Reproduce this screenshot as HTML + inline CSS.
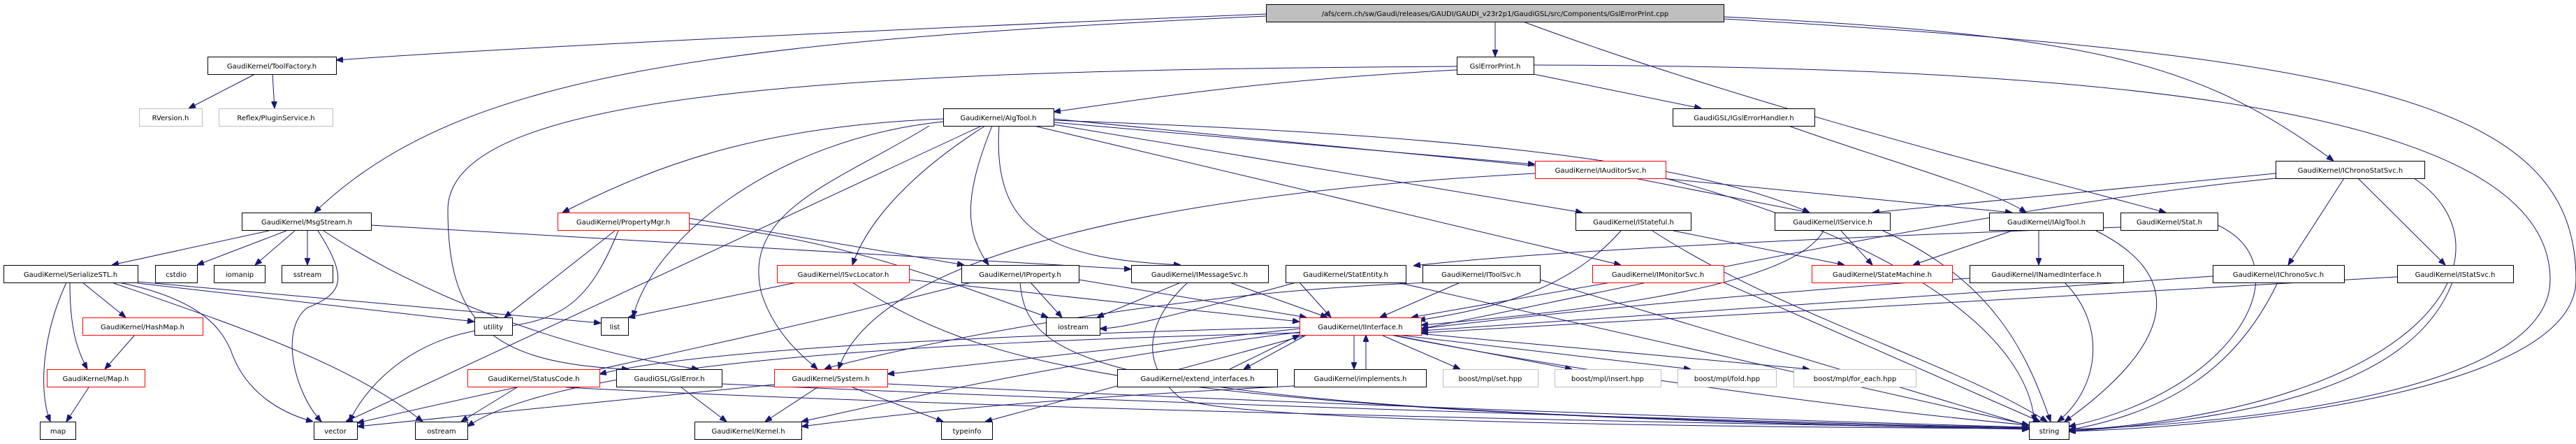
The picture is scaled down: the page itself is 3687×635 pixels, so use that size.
<!DOCTYPE html>
<html><head><meta charset="utf-8"><style>
html,body{margin:0;padding:0;background:#fff;}
svg{display:block;}
text{font-family:"DejaVu Sans","Liberation Sans",sans-serif;font-size:10px;fill:#000;}
.n{fill:#fff;stroke:#000;stroke-width:1;}
.r{fill:#fff;stroke:#ff0000;stroke-width:1;}
.g{fill:#fff;stroke:#bfbfbf;stroke-width:1;}
.e{fill:none;stroke:#191970;stroke-width:1;}
</style></head><body>
<svg width="3687" height="635" viewBox="0 0 3687 635" xmlns="http://www.w3.org/2000/svg">
<defs><marker id="a" markerWidth="10" markerHeight="8" refX="10" refY="4" orient="auto" markerUnits="userSpaceOnUse"><path d="M0,0 L10,4 L0,8 z" fill="#191970" stroke="#191970"/></marker></defs>
<g class="e" marker-end="url(#a)">
<path d="M1812,20 C1200,45 700,70 481,86"/>
<path d="M1812,23 C1000,60 650,110 450,304"/>
<path d="M2140,31 L2140,81"/>
<path d="M2180,31 C2500,150 2900,250 3100,304"/>
<path d="M2467,24 C3000,50 3150,90 3340,230"/>
<path d="M2467,27 C3400,80 3687,150 3687,400 C3687,560 3200,610 2961,617"/>
<path d="M2085,100 C1800,115 1650,140 1508,160"/>
<path d="M2195,106 L2435,155"/>
<path d="M2085,95 C1200,100 641,130 641,300 C641,460 700,520 900,528"/>
<path d="M2195,93 C3000,95 3650,150 3650,400 C3650,580 3100,610 2961,614"/>
<path d="M365,106 L270,155"/>
<path d="M390,106 L393,155"/>
<path d="M2560,180 C2700,230 2850,270 2900,304"/>
<path d="M1350,170 C1100,180 950,230 805,304"/>
<path d="M1350,174 C1100,200 930,350 906,454"/>
<path d="M1405,180 L495,603"/>
<path d="M1410,180 C1300,250 1240,320 1220,379"/>
<path d="M1420,180 C1380,280 1380,330 1415,379"/>
<path d="M1430,180 C1420,330 1500,370 1690,379"/>
<path d="M1508,175 L2197,235"/>
<path d="M1508,178 L2265,304"/>
<path d="M1508,172 C2000,190 2400,220 2590,304"/>
<path d="M1508,170 L2880,304"/>
<path d="M1480,180 L2320,379"/>
<path d="M1330,180 C1200,260 1060,300 1090,420 C1110,480 1150,510 1170,528"/>
<path d="M880,330 L722,454"/>
<path d="M885,330 C840,440 800,460 700,470 C580,485 520,560 500,603"/>
<path d="M986,312 L1380,379"/>
<path d="M986,320 C1200,340 1350,400 1500,454"/>
<path d="M385,330 L160,379"/>
<path d="M410,330 L282,379"/>
<path d="M422,330 L365,379"/>
<path d="M440,330 L440,379"/>
<path d="M455,330 C500,400 490,420 440,440 C400,470 420,560 460,603"/>
<path d="M463,330 C600,420 800,500 1000,528"/>
<path d="M531,322 L1619,385"/>
<path d="M95,404 C60,480 55,560 72,603"/>
<path d="M100,404 C100,470 110,500 125,528"/>
<path d="M118,404 L180,454"/>
<path d="M170,404 C300,430 320,480 330,500 C350,560 400,590 448,603"/>
<path d="M160,404 C350,470 500,520 605,603"/>
<path d="M197,405 L679,460"/>
<path d="M197,403 L860,462"/>
<path d="M193,479 L150,528"/>
<path d="M127,554 L95,603"/>
<path d="M740,554 L660,603"/>
<path d="M810,554 C1400,585 2400,605 2904,613"/>
<path d="M975,554 L1040,603"/>
<path d="M1033,549 C1600,575 2400,600 2904,612"/>
<path d="M1170,554 L1095,603"/>
<path d="M1220,554 L1350,603"/>
<path d="M1270,549 C1800,575 2500,600 2904,611"/>
<path d="M1108,550 L511,610"/>
<path d="M1140,404 L899,454"/>
<path d="M1220,404 C1400,520 1600,590 2904,614"/>
<path d="M1301,400 L1860,460"/>
<path d="M1475,404 L1520,454"/>
<path d="M1460,404 C1470,520 1560,590 2904,612"/>
<path d="M1544,400 L1870,454"/>
<path d="M1390,404 C1100,480 700,560 511,605"/>
<path d="M1690,404 L1570,454"/>
<path d="M1700,404 C1640,460 1630,520 1690,570 C1760,600 2300,610 2904,613"/>
<path d="M1760,404 L1900,454"/>
<path d="M1860,404 L1905,454"/>
<path d="M1855,404 C1650,460 1600,470 1574,470"/>
<path d="M2000,404 L2904,608"/>
<path d="M2090,404 L1975,454"/>
<path d="M2050,404 C1600,420 1200,520 1180,528"/>
<path d="M2204,400 L2904,609"/>
<path d="M2305,404 L2020,454"/>
<path d="M2467,404 L2920,603"/>
<path d="M2320,330 C2250,410 2150,440 2030,458"/>
<path d="M2395,330 L2640,379"/>
<path d="M2365,330 C2550,450 2800,520 2930,603"/>
<path d="M2635,330 L2680,379"/>
<path d="M2610,330 C2560,420 2200,450 2034,465"/>
<path d="M2695,330 C2850,400 2900,500 2935,603"/>
<path d="M2340,255 L2590,304"/>
<path d="M2197,248 C1600,280 1250,380 1200,528"/>
<path d="M2384,255 C2700,340 2900,470 2912,603"/>
<path d="M2918,330 L2918,379"/>
<path d="M2880,330 L2738,379"/>
<path d="M3000,330 C3140,400 3100,500 2955,603"/>
<path d="M2819,398 C2500,420 2200,450 2034,470"/>
<path d="M2955,404 C3020,470 3000,560 2945,603"/>
<path d="M3035,325 C2600,340 2200,360 2023,380"/>
<path d="M3174,322 C3300,380 3200,560 2961,610"/>
<path d="M3257,248 L2680,304"/>
<path d="M3257,255 C2800,300 2200,440 2034,470"/>
<path d="M3355,255 L3275,379"/>
<path d="M3375,255 L3500,379"/>
<path d="M3455,255 C3600,350 3500,580 2961,616"/>
<path d="M3167,395 L2034,473"/>
<path d="M3260,404 C3200,530 3100,590 2961,615"/>
<path d="M3431,396 L2034,476"/>
<path d="M3510,404 C3450,560 3200,600 2961,617"/>
<path d="M1938,479 L1938,528"/>
<path d="M1955,528 L1955,479"/>
<path d="M1870,479 L1780,528"/>
<path d="M1760,528 L1860,479"/>
<path d="M1977,479 L2090,528"/>
<path d="M1992,479 L2250,528"/>
<path d="M2000,479 L2420,528"/>
<path d="M2030,477 L2590,528"/>
<path d="M1860,470 L1270,535"/>
<path d="M1860,475 C1500,520 1300,570 1147,603"/>
<path d="M1860,468 C1400,480 1000,500 858,535"/>
<path d="M1860,476 C1300,490 800,520 669,610"/>
<path d="M1870,479 L1410,603"/>
<path d="M1990,479 C2300,540 2700,590 2904,608"/>
<path d="M1852,552 C1500,570 1300,590 1147,610"/>
</g>
<rect x="1812.5" y="6.5" width="655" height="25" fill="#bfbfbf" stroke="#000"/>
<text x="2140" y="23" text-anchor="middle">/afs/cern.ch/sw/Gaudi/releases/GAUDI/GAUDI_v23r2p1/GaudiGSL/src/Components/GslErrorPrint.cpp</text>
<g>
<rect class="n" x="297.5" y="81.5" width="184" height="25"/><text x="389" y="98" text-anchor="middle">GaudiKernel/ToolFactory.h</text>
<rect class="n" x="2085.5" y="81.5" width="110" height="25"/><text x="2140" y="98" text-anchor="middle">GslErrorPrint.h</text>
<rect class="g" x="199.5" y="155.5" width="90" height="25"/><text x="244" y="172" text-anchor="middle">RVersion.h</text>
<rect class="g" x="313.5" y="155.5" width="163" height="25"/><text x="395" y="172" text-anchor="middle">Reflex/PluginService.h</text>
<rect class="n" x="1350.5" y="155.5" width="158" height="25"/><text x="1429" y="172" text-anchor="middle">GaudiKernel/AlgTool.h</text>
<rect class="n" x="2394.5" y="155.5" width="203" height="25"/><text x="2496" y="172" text-anchor="middle">GaudiGSL/IGslErrorHandler.h</text>
<rect class="r" x="2197.5" y="230.5" width="187" height="25"/><text x="2291" y="247" text-anchor="middle">GaudiKernel/IAuditorSvc.h</text>
<rect class="n" x="3257.5" y="230.5" width="213" height="25"/><text x="3364" y="247" text-anchor="middle">GaudiKernel/IChronoStatSvc.h</text>
<rect class="n" x="346.5" y="304.5" width="185" height="25"/><text x="439" y="321" text-anchor="middle">GaudiKernel/MsgStream.h</text>
<rect class="r" x="798.5" y="304.5" width="188" height="25"/><text x="892" y="321" text-anchor="middle">GaudiKernel/PropertyMgr.h</text>
<rect class="n" x="2255.5" y="304.5" width="165" height="25"/><text x="2338" y="321" text-anchor="middle">GaudiKernel/IStateful.h</text>
<rect class="n" x="2540.5" y="304.5" width="165" height="25"/><text x="2623" y="321" text-anchor="middle">GaudiKernel/IService.h</text>
<rect class="n" x="2847.5" y="304.5" width="163" height="25"/><text x="2929" y="321" text-anchor="middle">GaudiKernel/IAlgTool.h</text>
<rect class="n" x="3035.5" y="304.5" width="139" height="25"/><text x="3105" y="321" text-anchor="middle">GaudiKernel/Stat.h</text>
<rect class="n" x="5.5" y="379.5" width="192" height="25"/><text x="101" y="396" text-anchor="middle">GaudiKernel/SerializeSTL.h</text>
<rect class="n" x="222.5" y="379.5" width="60" height="25"/><text x="252" y="396" text-anchor="middle">cstdio</text>
<rect class="n" x="306.5" y="379.5" width="73" height="25"/><text x="343" y="396" text-anchor="middle">iomanip</text>
<rect class="n" x="403.5" y="379.5" width="73" height="25"/><text x="440" y="396" text-anchor="middle">sstream</text>
<rect class="r" x="1112.5" y="379.5" width="189" height="25"/><text x="1207" y="396" text-anchor="middle">GaudiKernel/ISvcLocator.h</text>
<rect class="n" x="1376.5" y="379.5" width="168" height="25"/><text x="1460" y="396" text-anchor="middle">GaudiKernel/IProperty.h</text>
<rect class="n" x="1619.5" y="379.5" width="196" height="25"/><text x="1717" y="396" text-anchor="middle">GaudiKernel/IMessageSvc.h</text>
<rect class="n" x="1840.5" y="379.5" width="172" height="25"/><text x="1926" y="396" text-anchor="middle">GaudiKernel/StatEntity.h</text>
<rect class="n" x="2036.5" y="379.5" width="168" height="25"/><text x="2120" y="396" text-anchor="middle">GaudiKernel/IToolSvc.h</text>
<rect class="r" x="2279.5" y="379.5" width="188" height="25"/><text x="2373" y="396" text-anchor="middle">GaudiKernel/IMonitorSvc.h</text>
<rect class="r" x="2593.5" y="379.5" width="201" height="25"/><text x="2694" y="396" text-anchor="middle">GaudiKernel/StateMachine.h</text>
<rect class="n" x="2819.5" y="379.5" width="220" height="25"/><text x="2929" y="396" text-anchor="middle">GaudiKernel/INamedInterface.h</text>
<rect class="n" x="3167.5" y="379.5" width="188" height="25"/><text x="3261" y="396" text-anchor="middle">GaudiKernel/IChronoSvc.h</text>
<rect class="n" x="3431.5" y="379.5" width="166" height="25"/><text x="3514" y="396" text-anchor="middle">GaudiKernel/IStatSvc.h</text>
<rect class="r" x="118.5" y="454.5" width="172" height="25"/><text x="204" y="471" text-anchor="middle">GaudiKernel/HashMap.h</text>
<rect class="n" x="679.5" y="454.5" width="54" height="25"/><text x="706" y="471" text-anchor="middle">utility</text>
<rect class="n" x="860.5" y="454.5" width="39" height="25"/><text x="880" y="471" text-anchor="middle">list</text>
<rect class="n" x="1497.5" y="454.5" width="77" height="25"/><text x="1536" y="471" text-anchor="middle">iostream</text>
<rect class="r" x="1860.5" y="454.5" width="174" height="25"/><text x="1947" y="471" text-anchor="middle">GaudiKernel/IInterface.h</text>
<rect class="r" x="67.5" y="528.5" width="140" height="25"/><text x="137" y="545" text-anchor="middle">GaudiKernel/Map.h</text>
<rect class="r" x="669.5" y="528.5" width="189" height="25"/><text x="764" y="545" text-anchor="middle">GaudiKernel/StatusCode.h</text>
<rect class="n" x="882.5" y="528.5" width="151" height="25"/><text x="958" y="545" text-anchor="middle">GaudiGSL/GslError.h</text>
<rect class="r" x="1108.5" y="528.5" width="162" height="25"/><text x="1189" y="545" text-anchor="middle">GaudiKernel/System.h</text>
<rect class="n" x="1599.5" y="528.5" width="229" height="25"/><text x="1714" y="545" text-anchor="middle">GaudiKernel/extend_interfaces.h</text>
<rect class="n" x="1852.5" y="528.5" width="189" height="25"/><text x="1947" y="545" text-anchor="middle">GaudiKernel/implements.h</text>
<rect class="g" x="2065.5" y="528.5" width="136" height="25"/><text x="2133" y="545" text-anchor="middle">boost/mpl/set.hpp</text>
<rect class="g" x="2225.5" y="528.5" width="152" height="25"/><text x="2301" y="545" text-anchor="middle">boost/mpl/insert.hpp</text>
<rect class="g" x="2401.5" y="528.5" width="141" height="25"/><text x="2472" y="545" text-anchor="middle">boost/mpl/fold.hpp</text>
<rect class="g" x="2567.5" y="528.5" width="175" height="25"/><text x="2655" y="545" text-anchor="middle">boost/mpl/for_each.hpp</text>
<rect class="n" x="57.5" y="603.5" width="51" height="25"/><text x="83" y="620" text-anchor="middle">map</text>
<rect class="n" x="449.5" y="603.5" width="62" height="25"/><text x="480" y="620" text-anchor="middle">vector</text>
<rect class="n" x="594.5" y="603.5" width="75" height="25"/><text x="632" y="620" text-anchor="middle">ostream</text>
<rect class="n" x="994.5" y="603.5" width="153" height="25"/><text x="1071" y="620" text-anchor="middle">GaudiKernel/Kernel.h</text>
<rect class="n" x="1347.5" y="603.5" width="73" height="25"/><text x="1384" y="620" text-anchor="middle">typeinfo</text>
<rect class="n" x="2904.5" y="603.5" width="57" height="25"/><text x="2933" y="620" text-anchor="middle">string</text>
</g>
</svg>
</body></html>
